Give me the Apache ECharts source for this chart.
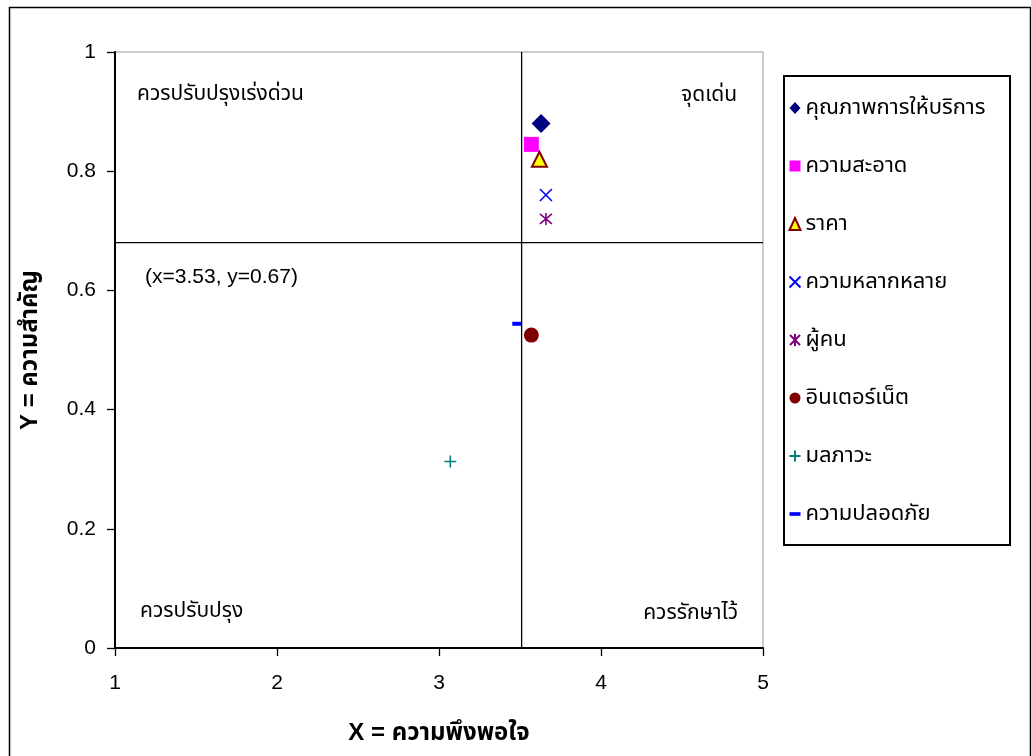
<!DOCTYPE html>
<html>
<head>
<meta charset="utf-8">
<script src="https://cdn.jsdelivr.net/npm/echarts@6/dist/echarts.min.js"></script>
<style>
html,body{margin:0;padding:0;background:#fff;}
#main{width:1031px;height:756px;}
</style>
</head>
<body>
<div id="main"></div>
<script>
// ---- data ----
var seriesNames = ['คุณภาพการให้บริการ','ความสะอาด','ราคา','ความหลากหลาย','ผู้คน','อินเตอร์เน็ต','มลภาวะ','ความปลอดภัย'];
var xValues = [3.63, 3.57, 3.62, 3.66, 3.66, 3.57, 3.07, 3.48];
var yValues = [0.88, 0.845, 0.82, 0.76, 0.72, 0.525, 0.313, 0.544];
var crossX = 3.51;
var crossY = 0.68;
var xTicks = [1, 2, 3, 4, 5];
var yTicks = [0, 0.2, 0.4, 0.6, 0.8, 1];
var quadrantLabels = ['ควรปรับปรุงเร่งด่วน','จุดเด่น','ควรปรับปรุง','ควรรักษาไว้'];
var meanLabel = '(x=3.53, y=0.67)';
var xTitle = 'X = ความพึงพอใจ';
var yTitle = 'Y = ความสำคัญ';

var FONT = "'Liberation Sans', Arial, 'Noto Sans Thai', 'DejaVu Sans', sans-serif";

var SQUARE = 'path://M0,0L10,0L10,10L0,10Z';
var DASH = 'path://M0,0L9,0L9,3L0,3Z';
var CROSS = 'path://M0,0L10,10M10,0L0,10';
var STAR = 'path://M0,0L10,10M10,0L0,10M5,-1L5,11';
var PLUS = 'path://M5,0L5,10M0,5L10,5';

var styles = [
  {symbol:'diamond', size:19, icon:'diamond', itemStyle:{color:'#000080', opacity:1}},
  {symbol:'rect', size:15, icon:SQUARE, itemStyle:{color:'#FF00FF', opacity:1}},
  {symbol:'triangle', size:15, icon:'triangle', itemStyle:{color:'#FFFF00', borderColor:'#800000', borderWidth:2, opacity:1}},
  {symbol:CROSS, size:12, icon:CROSS, itemStyle:{color:'none', borderColor:'#0000FF', borderWidth:1.6, opacity:1}},
  {symbol:STAR, size:12, icon:STAR, itemStyle:{color:'none', borderColor:'#800080', borderWidth:1.6, opacity:1}},
  {symbol:'circle', size:15, icon:'circle', itemStyle:{color:'#800000', opacity:1}},
  {symbol:PLUS, size:12, icon:PLUS, itemStyle:{color:'none', borderColor:'#008080', borderWidth:1.6, opacity:1}},
  {symbol:'rect', size:[9,4], icon:DASH, itemStyle:{color:'#0000FF', opacity:1}}
];

var series = [];
seriesNames.forEach(function(name, i){
  series.push({
    name: name,
    type: 'scatter',
    data: [[xValues[i], yValues[i]]],
    symbol: styles[i].symbol,
    symbolSize: styles[i].size,
    itemStyle: styles[i].itemStyle,
    z: 5
  });
});
// crosshair lines
series.push({
  name: 'vline', type: 'line', data: [[crossX, 0], [crossX, 1]],
  symbol: 'none', lineStyle: {color:'#000', width:1.3}, silent: true, z: 3
});
series.push({
  name: 'hline', type: 'line', data: [[1, crossY], [5, crossY]],
  symbol: 'none', lineStyle: {color:'#000', width:1.3}, silent: true, z: 3
});

var legendData = seriesNames.map(function(n, i){
  return {name: n, icon: styles[i].icon};
});

var chart = echarts.init(document.getElementById('main'), null, {renderer:'canvas'});
chart.setOption({
  backgroundColor: '#fff',
  animation: false,
  grid: {left:115, top:52, right:268, bottom:108, show:true, borderColor:'#999', borderWidth:1, backgroundColor:'#fff'},
  xAxis: {
    type:'value', min:xTicks[0], max:xTicks[xTicks.length-1], interval:1,
    name: xTitle, nameLocation:'middle', nameGap:73,
    nameTextStyle:{fontFamily:FONT, fontSize:24, fontWeight:'bold', color:'#000'},
    axisLine:{show:true, onZero:false, lineStyle:{color:'#000', width:2}},
    axisTick:{show:true, inside:false, length:8, lineStyle:{color:'#000', width:1.3}},
    axisLabel:{fontFamily:FONT, fontSize:21, color:'#000', margin:25},
    splitLine:{show:false}
  },
  yAxis: {
    type:'value', min:yTicks[0], max:yTicks[yTicks.length-1], interval:0.2,
    name: yTitle, nameLocation:'middle', nameGap:73, nameRotate:90,
    nameTextStyle:{fontFamily:FONT, fontSize:24, fontWeight:'bold', color:'#000'},
    axisLine:{show:true, onZero:false, lineStyle:{color:'#000', width:2}},
    axisTick:{show:true, inside:false, length:8, lineStyle:{color:'#000', width:1.3}},
    axisLabel:{fontFamily:FONT, fontSize:21, color:'#000', margin:19,
      formatter:function(v){return String(Math.round(v*10)/10);}},
    splitLine:{show:false}
  },
  legend: {
    data: legendData,
    orient:'vertical', left:782, top:92,
    itemGap:36, itemWidth:11, itemHeight:12,
    symbolKeepAspect: true,
    textStyle:{fontFamily:FONT, fontSize:22, color:'#000', lineHeight:22},
    selectedMode:false
  },
  graphic: [
    {type:'rect', left:7, top:5, shape:{width:1021, height:760}, style:{fill:'none', stroke:'#000', lineWidth:1.5}, z:-1, silent:true},
    {type:'rect', left:783, top:75, shape:{width:226, height:469}, style:{fill:'#fff', stroke:'#000', lineWidth:2}, z:0, silent:true},
    {type:'text', left:137, top:84, style:{text:quadrantLabels[0], font:'21px '+FONT, fill:'#000'}},
    {type:'text', right:1031-737, top:85, style:{text:quadrantLabels[1], font:'21px '+FONT, fill:'#000', textAlign:'right'}},
    {type:'text', left:140, top:601, style:{text:quadrantLabels[2], font:'21px '+FONT, fill:'#000'}},
    {type:'text', right:1031-738, top:603, style:{text:quadrantLabels[3], font:'21px '+FONT, fill:'#000', textAlign:'right'}},
    {type:'text', left:145, top:267, style:{text:meanLabel, font:'21px '+FONT, fill:'#000'}}
  ],
  series: series
});
</script>
</body>
</html>
